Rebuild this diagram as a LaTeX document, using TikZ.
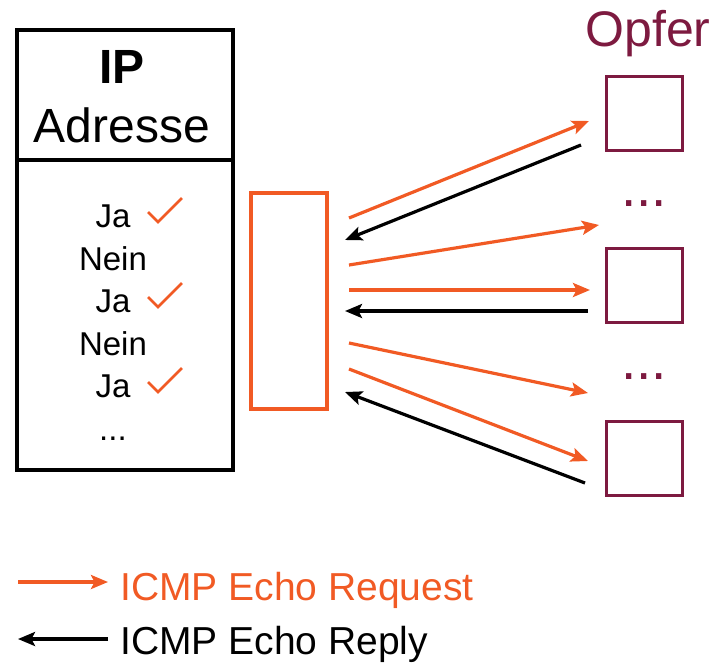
\documentclass[tikz,border=0pt]{standalone}
\usepackage{fontspec}
\setmainfont{Liberation Sans}
\usepackage{tikz}
\usetikzlibrary{arrows.meta,positioning}
\definecolor{reqorange}{HTML}{F15A24}
\definecolor{opferred}{HTML}{7D1A40}

\begin{document}
\begin{tikzpicture}[x=1pt,y=-1pt,
	txt/.style={inner sep=0pt,anchor=base,font=\fontsize{33}{38}\selectfont},
	big/.style={inner sep=0pt,anchor=base,font=\fontsize{48}{56}\selectfont},
	victim/.style={draw=opferred,line width=3.6pt,minimum width=76pt,minimum height=74pt,inner sep=0pt},
	req/.style={reqorange,line width=3.2pt,-{Stealth[length=17pt,width=14pt,inset=3.5pt]}},
	rep/.style={black,line width=3.2pt,-{Stealth[length=17pt,width=14pt,inset=3.5pt]}},
	tick/.style={reqorange,line width=2.8pt}]

	\useasboundingbox (0,0) rectangle (711,664);

	% table
	\draw [line width=3.4pt] (17,30) rectangle (233,470);
	\draw [line width=3.4pt] (17,160) to (233,160);

	\node[big,font=\fontsize{48}{56}\selectfont\bfseries] (IP) at (122,83) {IP};
	\node[big] (Adr) at (122,142) {Adresse};

	\node[txt] (A) at (113,227) {Ja};
	\node[txt] (B) at (113,270) {Nein};
	\node[txt] (C) at (113,312) {Ja};
	\node[txt] (D) at (113,355) {Nein};
	\node[txt] (E) at (113,397) {Ja};
	\node[txt] (F) at (113,440) {...};

	\draw [tick] (148,212) -- (158,222) -- (182,198);
	\draw [tick] (148,297) -- (158,307) -- (182,283);
	\draw [tick] (148,382) -- (158,392) -- (182,368);

	% scanner
	\node[draw=reqorange,line width=3.4pt,minimum width=76pt,minimum height=216pt,inner sep=0pt] (scan) at (289,301) {};

	% victims
	\node[big,text=opferred,font=\fontsize{50}{58}\selectfont] (opfer) at (648,46) {Opfer};
	\node[victim] (v1) at (644.5,113.5) {};
	\node[victim] (v2) at (644.5,285.5) {};
	\node[victim] (v3) at (644.5,458.5) {};
	\node[inner sep=0pt,anchor=base,text=opferred,font=\fontsize{55}{60}\selectfont] (d1) at (644,206) {...};
	\node[inner sep=0pt,anchor=base,text=opferred,font=\fontsize{55}{60}\selectfont] (d2) at (644,379) {...};

	% arrows
	\coordinate (a1) at (349,218);  \coordinate (b1) at (589,121);
	\coordinate (a2) at (581,145);  \coordinate (b2) at (345,240);
	\coordinate (a3) at (349,265);  \coordinate (b3) at (599,225);
	\coordinate (a4) at (349,290);  \coordinate (b4) at (590,290);
	\coordinate (a5) at (588,311);  \coordinate (b5) at (345,311);
	\coordinate (a6) at (349,343);  \coordinate (b6) at (588,393);
	\coordinate (a7) at (349,369);  \coordinate (b7) at (588,461);
	\coordinate (a8) at (585,483);  \coordinate (b8) at (345,392);

	\draw [req] (a1) -- (b1);
	\draw [rep] (a2) -- (b2);
	\draw [req] (a3) -- (b3);
	\draw [req] (a4) -- (b4);
	\draw [rep] (a5) -- (b5);
	\draw [req] (a6) -- (b6);
	\draw [req] (a7) -- (b7);
	\draw [rep] (a8) -- (b8);

	% legend
	\node[inner sep=0pt,anchor=base west,text=reqorange,font=\fontsize{39}{44}\selectfont] (lreq) at (120,600) {ICMP Echo Request};
	\node[inner sep=0pt,anchor=base west,font=\fontsize{39}{44}\selectfont] (lrep) at (120,654) {ICMP Echo Reply};
	\coordinate (l1) at (18,582);  \coordinate (l2) at (108,582);
	\coordinate (l3) at (108,639); \coordinate (l4) at (18,639);
	\draw [req] (l1) -- (l2);
	\draw [rep] (l3) -- (l4);

\end{tikzpicture}
\end{document}
